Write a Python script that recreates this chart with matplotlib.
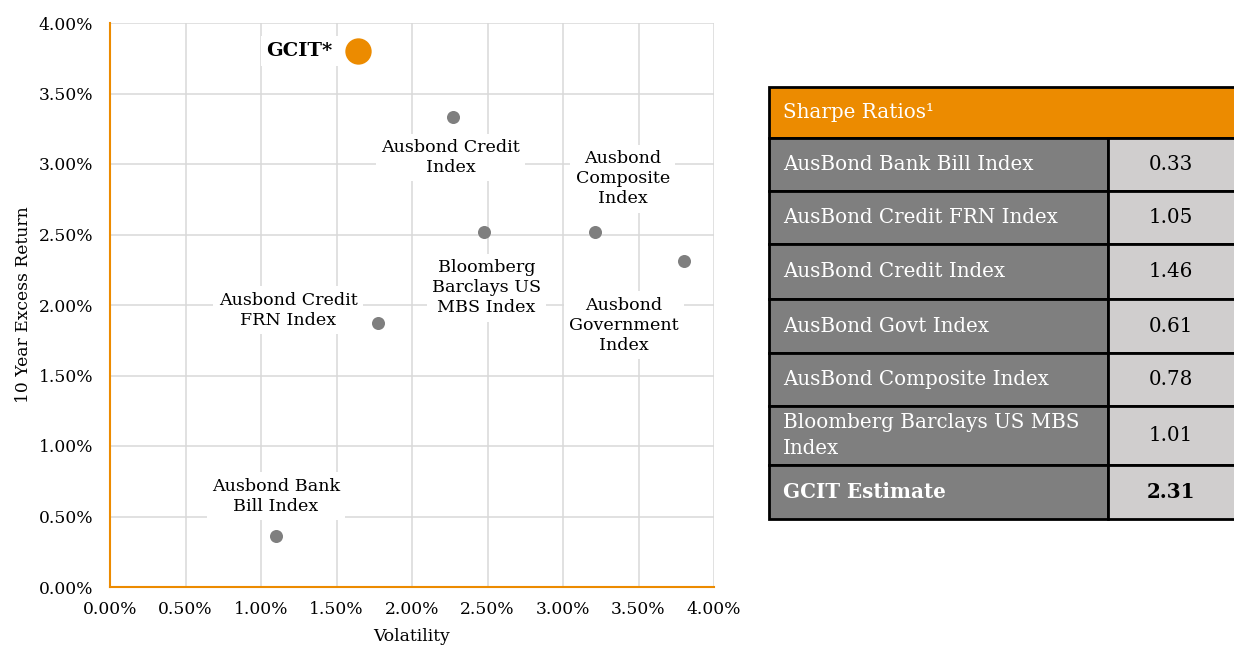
import matplotlib.pyplot as plt
from matplotlib.patches import Rectangle
from matplotlib.ticker import PercentFormatter

plt.rcParams['font.family'] = ['DejaVu Serif']

# ---------------- data ----------------
names = ["Ausbond Bank\nBill Index", "Ausbond Credit\nFRN Index", "Ausbond Credit\nIndex",
         "Bloomberg\nBarclays US\nMBS Index", "Ausbond\nComposite\nIndex", "Ausbond\nGovernment\nIndex"]
volatility = [1.10, 1.775, 2.27, 2.48, 3.21, 3.80]
excess_return = [0.36, 1.87, 3.33, 2.52, 2.52, 2.31]
# label offsets in pixels (text centre relative to point)
label_offsets = [(0, 40), (-90, 13), (-2, -40), (2, -56), (28, 53), (-60, -64)]

gcit_vol = 1.64
gcit_ret = 3.80

table_names = ["AusBond Bank Bill Index", "AusBond Credit FRN Index", "AusBond Credit Index",
               "AusBond Govt Index", "AusBond Composite Index", "Bloomberg Barclays US MBS\nIndex",
               "GCIT Estimate"]
sharpe = ["0.33", "1.05", "1.46", "0.61", "0.78", "1.01", "2.31"]

orange = "#EC8B00"
grey = "#7F7F7F"
light = "#D0CECE"

fig = plt.figure(figsize=(12.34, 6.49), dpi=100)

# ---------------- scatter ----------------
ax = fig.add_axes([110/1234, 62/649, 604/1234, 564/649])
ax.set_xlim(0, 4)
ax.set_ylim(0, 4)
ax.set_xticks([i * 0.5 for i in range(9)])
ax.set_yticks([i * 0.5 for i in range(9)])
ax.xaxis.set_major_formatter(PercentFormatter(decimals=2))
ax.yaxis.set_major_formatter(PercentFormatter(decimals=2))
ax.grid(True, color="#D9D9D9", linewidth=1.1)
ax.set_axisbelow(True)
for s in ["top", "right"]:
    ax.spines[s].set_visible(False)
for s in ["left", "bottom"]:
    ax.spines[s].set_color(orange)
    ax.spines[s].set_linewidth(1.5)
ax.tick_params(axis="y", length=0, labelsize=12.3, pad=12)
ax.tick_params(axis="x", length=0, labelsize=12.3, pad=10)
ax.set_xlabel("Volatility", fontsize=12.3, labelpad=7)
ax.set_ylabel("10 Year Excess Return", fontsize=12.3, labelpad=5)

ax.scatter(volatility, excess_return, s=88, color=grey, zorder=3, linewidths=0)
for n, x, y, off in zip(names, volatility, excess_return, label_offsets):
    ax.annotate(n, (x, y), xytext=off, textcoords="offset pixels", ha="center", va="center",
                fontsize=12.6, linespacing=1.25, zorder=4,
                bbox=dict(boxstyle="square,pad=0.3", fc="white", ec="none"))

ax.scatter([gcit_vol], [gcit_ret], s=360, color=orange, zorder=3, linewidths=0)
ax.annotate("GCIT*", (gcit_vol, gcit_ret), xytext=(-25, 0), textcoords="offset pixels",
            ha="right", va="center", fontsize=14, fontweight="bold", zorder=4,
            bbox=dict(boxstyle="square,pad=0.3", fc="white", ec="none"))

# ---------------- table ----------------
tx = fig.add_axes([769/1234, 130/649, 465/1234, 432/649])
tx.set_xlim(0, 465)
tx.set_ylim(432, 0)
tx.axis("off")
split = 339
bounds = [0, 51, 104, 157, 212, 266, 319, 378, 432]

tx.add_patch(Rectangle((0, 0), 470, bounds[1], fc=orange, ec="black", lw=2, clip_on=False))
tx.text(14, bounds[1] / 2, "Sharpe Ratios¹", color="white", fontsize=14.3, va="center")
for i, (n, v) in enumerate(zip(table_names, sharpe)):
    y0, y1 = bounds[i + 1], bounds[i + 2]
    tx.add_patch(Rectangle((0, y0), split, y1 - y0, fc=grey, ec="black", lw=2, clip_on=False))
    tx.add_patch(Rectangle((split, y0), 470 - split, y1 - y0, fc=light, ec="black", lw=2, clip_on=False))
    fw = "bold" if i == len(table_names) - 1 else "normal"
    tx.text(14, (y0 + y1) / 2, n, color="white", fontsize=14.3, va="center", fontweight=fw,
            linespacing=1.4)
    tx.text(split + 63, (y0 + y1) / 2, v, color="black", fontsize=14.3, va="center",
            ha="center", fontweight=fw)

fig.savefig("out.png", dpi=100)
